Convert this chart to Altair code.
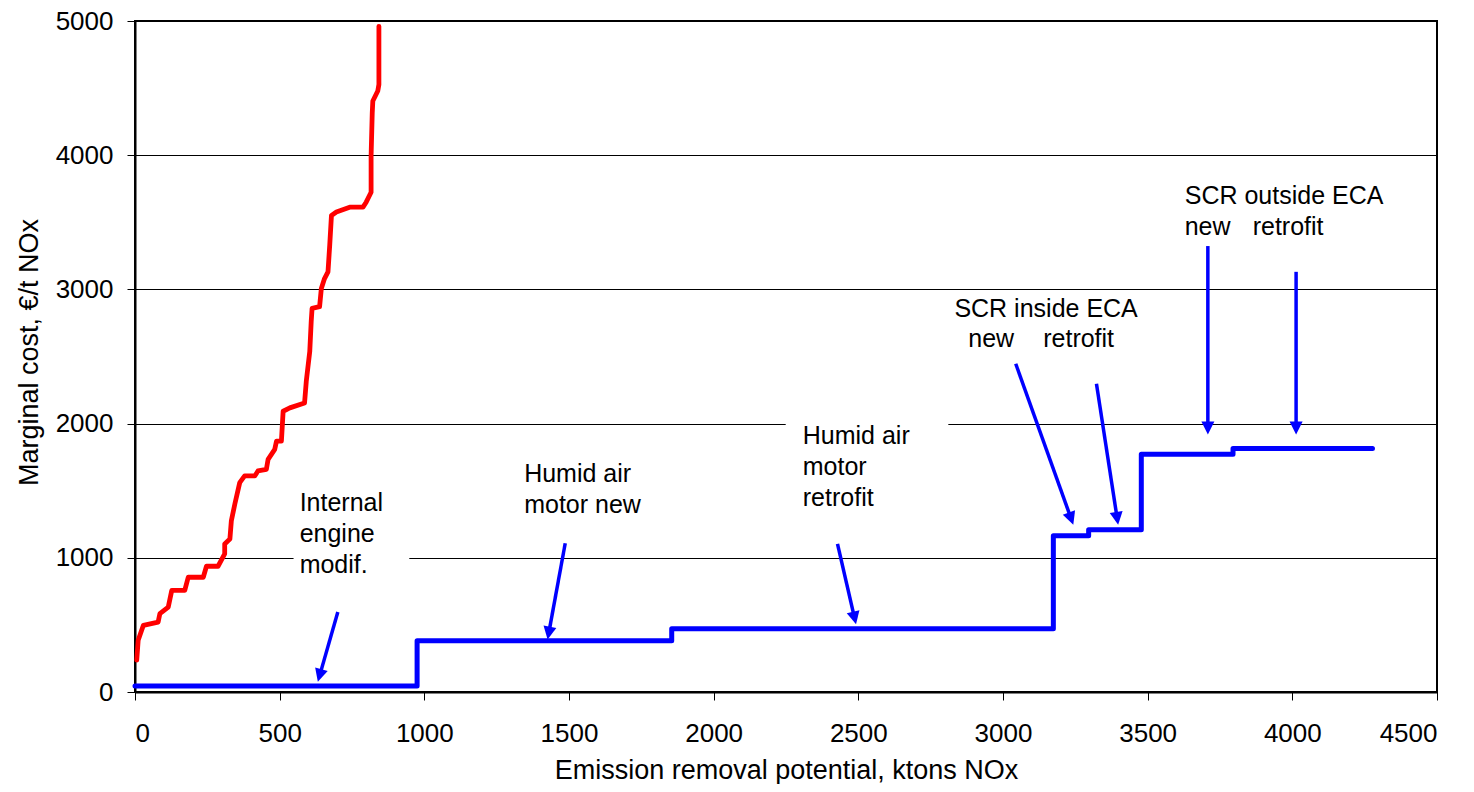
import math
import altair as alt
import pandas as pd

# ---- data ----
# Red curve: internal engine modification measures (cumulative)
red_x = [6, 11, 29, 80, 86, 115, 127, 172, 184, 236, 247, 287, 310, 310, 328, 333, 345, 362, 379, 414,
         425, 454, 460, 483, 489, 506, 512, 535, 586, 592, 604, 609, 612, 638, 644, 655, 667, 673, 679, 696,
         742, 788, 799, 816, 816, 820, 822, 839, 843, 843]
red_y = [237, 386, 497, 521, 584, 633, 757, 757, 855, 855, 937, 937, 1029, 1103, 1140, 1276, 1400, 1560, 1610, 1610,
         1647, 1659, 1733, 1808, 1869, 1869, 2092, 2117, 2154, 2315, 2537, 2760, 2858, 2871, 3007, 3081, 3131, 3329, 3551, 3576,
         3613, 3613, 3650, 3724, 3996, 4318, 4404, 4478, 4527, 4960]

# Blue step curve: technology steps
blue_x = [0, 975, 1855, 3174, 3296, 3478, 3795, 4277]
blue_y = [45, 381, 472, 1165, 1209, 1771, 1815, 1815]

# Annotations
label_text = ["Internal\nengine\nmodif.", "Humid air\nmotor new", "Humid air\nmotor\nretrofit",
              "SCR inside ECA", "new", "retrofit", "SCR outside ECA", "new", "retrofit"]
label_x = [569, 1345, 2308, 2832, 2880, 3139, 3628, 3628, 3863]
label_y = [1500, 1712, 1995, 2947, 2717, 2717, 3783, 3553, 3553]

arrow_x0 = [701, 1487, 2428, 3044, 3323, 3708, 4013]
arrow_y0 = [596, 1108, 1103, 2446, 2297, 3323, 3131]
arrow_x1 = [632, 1426, 2492, 3243, 3398, 3708, 4013]
arrow_y1 = [76, 391, 504, 1246, 1246, 1919, 1919]

# white label boxes (hide the gridline behind two labels)
box_x0 = [548, 2249]
box_x1 = [948, 2811]
box_y0 = [830, 1420]
box_y1 = [1540, 2060]

# ---- layout ----
W, H = 1302, 671
XMAX, YMAX = 4500, 5000
sx, sy = W / XMAX, H / YMAX
FONT = "Liberation Sans"
BLUE = "#0000FF"
RED = "#FF0000"

red = pd.DataFrame({"x": red_x, "y": red_y})
blue = pd.DataFrame({"x": blue_x, "y": blue_y})
labels = pd.DataFrame({"x": label_x, "y": label_y, "t": label_text})
boxes = pd.DataFrame({"x": box_x0, "x2": box_x1, "y": box_y0, "y2": box_y1})

shafts, heads = [], []
for x0, y0, x1, y1 in zip(arrow_x0, arrow_y0, arrow_x1, arrow_y1):
    dxp = (x1 - x0) * sx
    dyp = -(y1 - y0) * sy
    L = math.hypot(dxp, dyp)
    ux, uy = dxp / L, dyp / L
    back = 8
    xe = x1 - ux * back / sx
    ye = y1 + uy * back / sy
    ang = math.degrees(math.atan2(-dxp, dyp)) % 360
    shafts.append(dict(x=x0, y=y0, x2=xe, y2=ye))
    heads.append(dict(x=x1, y=y1, angle=ang))
shafts = pd.DataFrame(shafts)
heads = pd.DataFrame(heads)

xs = alt.Scale(domain=[0, XMAX], nice=False, zero=True)
ys = alt.Scale(domain=[0, YMAX], nice=False, zero=True)

xaxis = alt.Axis(values=list(range(0, 4501, 500)), format="d", grid=False, labelPadding=20,
                 titleY=65, titleBaseline="top")
yaxis = alt.Axis(values=list(range(0, 5001, 1000)), format="d", grid=True, labelPadding=14,
                 titleX=-118.6, titleY=331, titleAngle=270, titleBaseline="top",
                 titleAlign="center")

X = alt.X("x:Q", scale=xs, axis=xaxis, title="Emission removal potential, ktons NOx")
Y = alt.Y("y:Q", scale=ys, axis=yaxis, title="Marginal cost,  €/t NOx")

box_layer = alt.Chart(boxes).mark_rect(fill="white").encode(
    x=X, x2="x2:Q", y=Y, y2="y2:Q")

red_layer = alt.Chart(red).transform_window(idx="row_number()").mark_line(
    color=RED, strokeWidth=4.8, strokeCap="round", strokeJoin="round"
).encode(x=X, y=Y, order="idx:Q")

blue_layer = alt.Chart(blue).mark_line(color=BLUE, strokeWidth=5, interpolate="step-after",
                                       strokeCap="round", strokeJoin="round").encode(x=X, y=Y)

shaft_layer = alt.Chart(shafts).mark_rule(color=BLUE, strokeWidth=3.5).encode(
    x=X, y=Y, x2="x2:Q", y2="y2:Q")

head_layer = alt.Chart(heads).mark_point(
    shape="M0,0 L-0.5,-1 L0.5,-1 Z", filled=True, color=BLUE, opacity=1, size=676, strokeWidth=0
).encode(x=X, y=Y, angle=alt.Angle("angle:Q", scale=None))

text_layer = alt.Chart(labels).mark_text(
    align="left", baseline="top", font=FONT, fontSize=25, color="black", lineBreak="\n", lineHeight=31
).encode(x=X, y=Y, text="t:N")

chart = alt.layer(box_layer, red_layer, blue_layer, shaft_layer, head_layer, text_layer).properties(
    width=W, height=H,
    autosize=alt.AutoSizeParams(type="none"),
    padding={"left": 127, "top": 13, "right": 29, "bottom": 92},
    background="white",
).configure_view(stroke="black", strokeWidth=2).configure_axis(
    labelFont=FONT, labelFontSize=26, labelColor="black",
    titleFont=FONT, titleFontSize=27, titleFontWeight="normal", titleColor="black",
    tickColor="black", tickSize=8, tickWidth=1,
    domainColor="black", domainWidth=2,
    gridColor="black", gridWidth=1, gridOpacity=1,
)

chart.save("out.html", embed_options={"renderer": "svg", "actions": False})
